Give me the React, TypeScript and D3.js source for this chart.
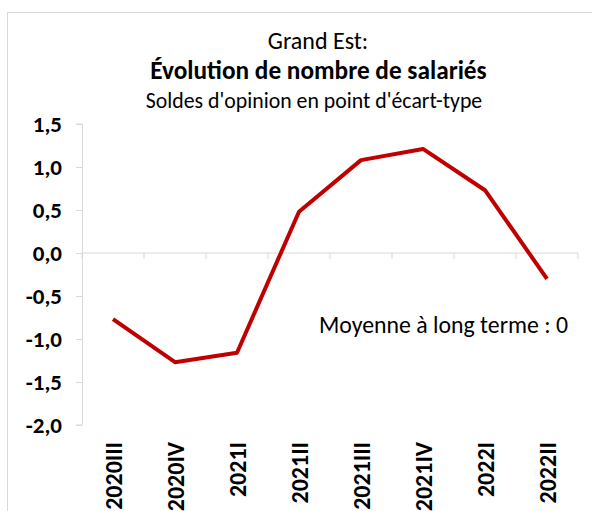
import React, { useEffect, useRef } from 'react';
import * as d3 from 'd3';

const categories = ['2020III', '2020IV', '2021I', '2021II', '2021III', '2021IV', '2022I', '2022II'];
const values = [-0.77, -1.27, -1.16, 0.48, 1.08, 1.21, 0.73, -0.3];
const yTicks = [1.5, 1.0, 0.5, 0.0, -0.5, -1.0, -1.5, -2.0];
const titleLines = ['Grand Est:', 'Évolution de nombre de salariés', "Soldes d'opinion en point d'écart-type"];
const note = 'Moyenne à long terme : 0';

export default function App() {
  const svgRef = useRef<SVGSVGElement>(null);

  useEffect(() => {
    const svg = d3.select(svgRef.current);
    svg.selectAll('*').remove();
    const font = 'Calibri, Carlito, "Open Sans", sans-serif';
    const axisColor = '#d9d9d9';

    // cadre du graphique
    svg.append('rect').attr('x', 7.5).attr('y', 12.5).attr('width', 620).attr('height', 540)
      .attr('fill', '#fff').attr('stroke', axisColor).attr('stroke-width', 1);

    const x = d3.scaleBand().domain(categories).range([82, 578]);
    const y = d3.scaleLinear().domain([-2, 1.5]).range([425, 124]);

    // titre
    const t = svg.append('g').attr('font-family', font).attr('fill', '#000').attr('text-anchor', 'middle');
    t.append('text').attr('x', 318).attr('y', 49).attr('font-size', 24).text(titleLines[0]);
    t.append('text').attr('x', 318.5).attr('y', 79).attr('font-size', 25.3).attr('font-weight', 'bold').text(titleLines[1]);
    t.append('text').attr('x', 314).attr('y', 108).attr('font-size', 21.8).text(titleLines[2]);

    // axe Y
    const yAxis = svg.append('g').attr('transform', 'translate(82,0)')
      .call(d3.axisLeft(y).tickValues(yTicks).tickSize(6).tickPadding(14)
        .tickFormat(d => d3.format('.1f')(d as number).replace('.', ',').replace('−', '-')));
    yAxis.select('.domain').attr('stroke', axisColor).attr('d', `M-6,${y(1.5)}H0.5V${y(-2)}H-6`);
    yAxis.selectAll('.tick line').attr('stroke', axisColor);
    yAxis.selectAll('.tick text').attr('font-family', font).attr('font-size', 23)
      .attr('font-weight', 'bold').attr('fill', '#000');

    // axe X à zéro
    const x0 = y(0);
    const xg = svg.append('g');
    xg.append('line').attr('x1', 82).attr('x2', 578).attr('y1', x0).attr('y2', x0).attr('stroke', axisColor);
    const bounds = categories.map(c => x(c)!).concat([x.range()[1]]);
    xg.selectAll('.xt').data(bounds).enter().append('line')
      .attr('x1', d => d).attr('x2', d => d).attr('y1', x0).attr('y2', x0 + 6).attr('stroke', axisColor);
    xg.selectAll('.xl').data(categories).enter().append('text')
      .attr('transform', d => `translate(${x(d)! + x.bandwidth() / 2 + 9},442) rotate(-90)`)
      .attr('text-anchor', 'end').attr('font-family', font).attr('font-size', 24).attr('font-weight', 'bold')
      .text(d => d);

    // série
    const line = d3.line<number>().x((_, i) => x(categories[i])! + x.bandwidth() / 2).y(d => y(d));
    svg.append('path').datum(values).attr('d', line).attr('fill', 'none')
      .attr('stroke', '#c00000').attr('stroke-width', 4).attr('stroke-linejoin', 'round');

    svg.append('text').attr('x', 568).attr('y', 333).attr('text-anchor', 'end')
      .attr('font-family', font).attr('font-size', 23.8).text(note);
  }, []);

  return (
    <svg ref={svgRef} width={592} height={511}
      style={{ position: 'absolute', left: 0, top: 0, background: '#fff' }} />
  );
}
